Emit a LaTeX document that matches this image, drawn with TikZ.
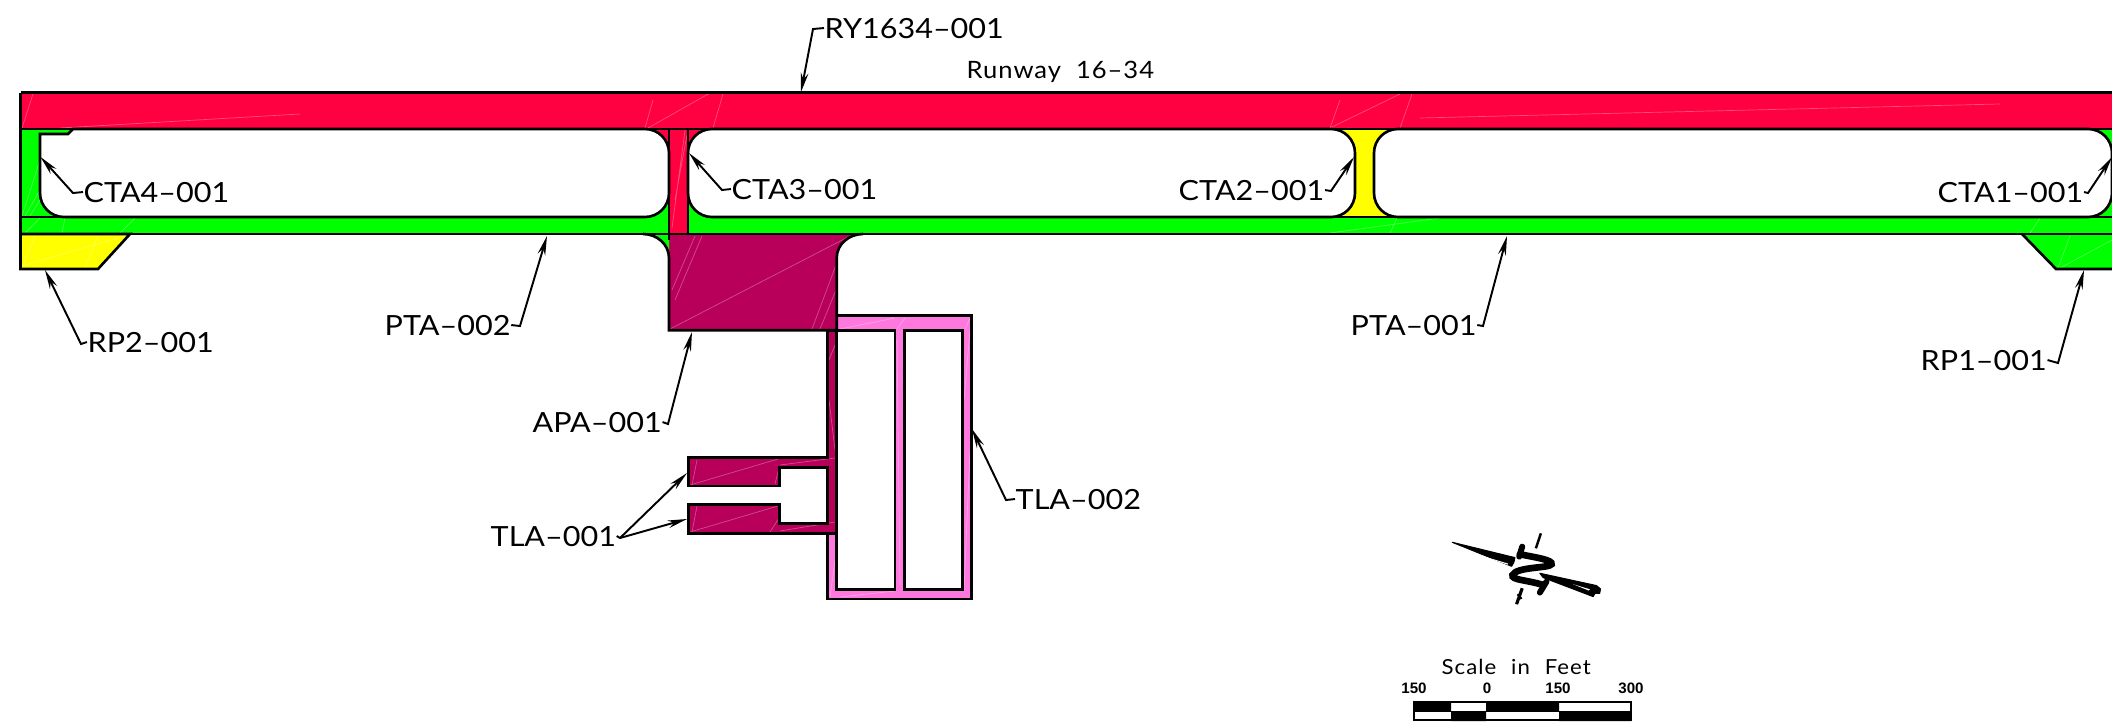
\documentclass[tikz,border=0pt]{standalone}
\usepackage{fontspec}
\setmainfont{Liberation Sans}
\newfontfamily\lblfont{Lato}[FakeStretch=1.1]
\newfontfamily\rwfont{Lato}[FakeStretch=1.07,LetterSpace=4,WordSpace=2]
\newfontfamily\scfont{Lato}[FakeStretch=1.07,LetterSpace=5,WordSpace=2.2]
\usetikzlibrary{arrows.meta}
\definecolor{rwy}{RGB}{255,0,64}
\definecolor{twy}{RGB}{0,255,0}
\definecolor{ylw}{RGB}{255,255,0}
\definecolor{apr}{RGB}{184,0,90}
\definecolor{tla}{RGB}{255,120,222}
\tikzset{
  outl/.style={draw=black,line width=0.75pt,line join=miter},
  edge/.style={draw=black,line width=0.75pt},
  hole/.style={fill=white,draw=black,line width=0.75pt},
  lab/.style={inner sep=0pt,anchor=base west,font=\fontsize{7.9}{9}\lblfont},
  lab2/.style={inner sep=0pt,anchor=base west,font=\fontsize{6.8}{8}\rwfont},
  lab3/.style={inner sep=0pt,anchor=base west,font=\fontsize{5.9}{8}\scfont},
  num/.style={inner sep=0pt,anchor=base,font=\fontsize{4.3}{5}\selectfont\bfseries},
  lead/.style={draw=black,line width=0.55pt},
  tip/.style={lead,-{Stealth[length=5.5pt,width=2.2pt]}},
  tri/.style={draw=white,line width=0.2pt,opacity=0.3},
  ink/.style={fill=black,draw=black,line width=0.3pt,line join=round},
}
\begin{document}
\begin{tikzpicture}[x=0.01cm,y=-0.01cm]
\useasboundingbox (0,0) rectangle (2112,721);
% surfaces
\fill[twy] (20.5,129) rectangle (2112,234);
\fill[rwy] (20.5,92.7) rectangle (2112,129);
\fill[ylw] (1325,129) rectangle (1405,217);
\fill[rwy] (640,129) rectangle (720,175);
\fill[rwy] (669,129) rectangle (688,234);
% triangulation seams
\draw[tri] (22,128)--(33,94) (60,128)--(300,114) (645,128)--(653,100) (648,128)--(710,93) (713,128)--(723,94)
 (1330,128)--(1340,100) (1330,128)--(1400,94) (1400,128)--(1412,94) (1420,118)--(2000,104)
 (22,216)--(40,160) (25,216)--(40,190) (30,216)--(40,200) (25,233)--(40,218) (62,233)--(65,218) (120,233)--(135,218)
 (672,228)--(685,130) (675,200)--(687,135) (2030,233)--(2040,218) (1330,233)--(1440,218) (1390,233)--(1397,218);
\fill[ylw] (20.5,234) -- (130,234) -- (98,269) -- (20.5,269) -- cycle;
\draw[tri] (22,268)--(35,236) (25,265)--(125,236) (85,268)--(98,236);
\draw[outl] (20.5,234) -- (130,234) -- (98,269) -- (20.5,269) -- cycle;
\fill[twy] (2022,234) -- (2056,269) -- (2112,269) -- (2112,234) -- cycle;
\draw[tri] (2058,268)--(2070,236) (2060,268)--(2112,240);
\draw[outl] (2112,269) -- (2056,269) -- (2022,234);
% pink area
\path[fill=tla,even odd rule] (827.3,315.7) rectangle (971.7,599) (836.7,330.7) rectangle (895,589.3) (904.3,330.7) rectangle (962.3,589.3);
\draw[tri] (840,329)--(895,318) (897,329)--(905,318) (965,329)--(970,318) (900,585)--(897,340) (830,597)--(835,560) (840,597)--(895,591) (964,400)--(970,330) (964,590)--(970,450);
\draw[outl] (827.3,315.7) rectangle (971.7,599) (836.7,330.7) rectangle (895,589.3) (904.3,330.7) rectangle (962.3,589.3);
% terminal lease strip
\path[fill=apr] (827.3,330.3) -- (836.7,330.3) -- (836.7,533.3) -- (688.3,533.3) -- (688.3,504.3) -- (779.3,504.3) -- (779.3,523.3) -- (827.3,523.3) -- (827.3,467.3) -- (779.3,467.3) -- (779.3,486) -- (688.3,486) -- (688.3,457.7) -- (827.3,457.7) -- cycle;
\draw[tri] (690,485)--(778,459) (692,485)--(697,460) (775,484)--(779,468) (690,532)--(778,506) (692,532)--(697,506) (770,532)--(779,518) (780,531)--(835,522) (780,465)--(835,458) (829,360)--(835,345) (829,400)--(835,450);
\draw[outl] (827.3,330.3) -- (836.7,330.3) -- (836.7,533.3) -- (688.3,533.3) -- (688.3,504.3) -- (779.3,504.3) -- (779.3,523.3) -- (827.3,523.3) -- (827.3,467.3) -- (779.3,467.3) -- (779.3,486) -- (688.3,486) -- (688.3,457.7) -- (827.3,457.7) -- cycle;
% apron
\path[fill=apr] (669,234) -- (863,234) to[out=180,in=90] (836.7,258) -- (836.7,330.3) -- (669,330.3) -- cycle;
\draw[tri] (670,329)--(850,236) (672,290)--(695,236) (675,300)--(702,236) (812,329)--(836,265) (820,329)--(836,290);
\fill[twy] (643,234) to[out=0,in=90] (669,258) -- (669,234) -- cycle;
\draw[edge] (643,234) to[out=0,in=90] (669,258) -- (669,330.3) -- (836.7,330.3) -- (836.7,258) to[out=90,in=180] (863,234);
% pavement edges
\draw[edge] (20.5,92.7) -- (2112,92.7);
\draw[edge] (20.5,92.7) -- (20.5,269);
\draw[edge] (20.5,129) -- (2112,129);
\draw[edge] (20.5,234) -- (2112,234);
\draw[edge] (20.5,217) -- (70,217) (1325,217) -- (1405,217) (2080,217) -- (2112,217);
\draw[edge] (669,129) -- (669,240) (688,129) -- (688,234);
% infield holes
\path[hole] (73,129) -- (68,134) -- (40,134) -- (40,193) to[out=-90,in=180] (64,217) -- (645,217) to[out=0,in=-90] (669,193) -- (669,153) to[out=90,in=0] (645,129) -- cycle;
\path[hole] (712,129) to[out=180,in=90] (688,153) -- (688,193) to[out=-90,in=180] (712,217) -- (1331,217) to[out=0,in=-90] (1355,193) -- (1355,153) to[out=90,in=0] (1331,129) -- cycle;
\path[hole] (1398,129) to[out=180,in=90] (1374,153) -- (1374,193) to[out=-90,in=180] (1398,217) -- (2088,217) to[out=0,in=-90] (2112,193) -- (2112,153) to[out=90,in=0] (2088,129) -- cycle;
% labels
\node[lab2] (rwlabel) at (966,78) {Runway 16–34};
\node[lab] (lRY) at (824,38) {RY1634–001};
\node[lab] (lCTA4) at (83,202) {CTA4–001};
\node[lab] (lCTA3) at (731,199) {CTA3–001};
\node[lab] (lCTA2) at (1178,200) {CTA2–001};
\node[lab] (lCTA1) at (1937,202) {CTA1–001};
\node[lab] (lRP2) at (87,352) {RP2–001};
\node[lab] (lPTA2) at (384,335) {PTA–002};
\node[lab] (lPTA1) at (1350,335) {PTA–001};
\node[lab] (lRP1) at (1920,370) {RP1–001};
\node[lab] (lAPA) at (532,432) {APA–001};
\node[lab] (lTLA1) at (490,546) {TLA–001};
\node[lab] (lTLA2) at (1015,509) {TLA–002};
% leader points
\coordinate (eRY) at (813,29);   \coordinate (tRY) at (801,92);
\coordinate (eCTA4) at (73,193); \coordinate (tCTA4) at (40.5,157);
\coordinate (eCTA3) at (722,190);\coordinate (tCTA3) at (689,153);
\coordinate (eCTA2) at (1331,191);\coordinate (tCTA2) at (1354,157);
\coordinate (eCTA1) at (2088,193);\coordinate (tCTA1) at (2112,157);
\coordinate (eRP2) at (81,344);  \coordinate (tRP2) at (45,270);
\coordinate (ePTA2) at (520,326);\coordinate (tPTA2) at (547,236);
\coordinate (ePTA1) at (1483,326);\coordinate (tPTA1) at (1507,236);
\coordinate (eRP1) at (2058,363);\coordinate (tRP1) at (2084,270);
\coordinate (eAPA) at (668,424); \coordinate (tAPA) at (692,332);
\coordinate (eTLA1) at (620,538);\coordinate (tTLAa) at (687,473);\coordinate (tTLAb) at (687,519);
\coordinate (eTLA2) at (1006,500);\coordinate (tTLA2) at (972,429);
% leaders
\draw[tip] (lRY.west) -- (eRY) -- (tRY);
\draw[tip] (lCTA4.west) -- (eCTA4) -- (tCTA4);
\draw[tip] (lCTA3.west) -- (eCTA3) -- (tCTA3);
\draw[tip] (lCTA2.east) -- (eCTA2) -- (tCTA2);
\draw[tip] (lCTA1.east) -- (eCTA1) -- (tCTA1);
\draw[tip] (lRP2.west) -- (eRP2) -- (tRP2);
\draw[tip] (lPTA2.east) -- (ePTA2) -- (tPTA2);
\draw[tip] (lPTA1.east) -- (ePTA1) -- (tPTA1);
\draw[tip] (lRP1.east) -- (eRP1) -- (tRP1);
\draw[tip] (lAPA.east) -- (eAPA) -- (tAPA);
\draw[tip] (lTLA1.east) -- (eTLA1) -- (tTLAa);
\draw[tip] (eTLA1) -- (tTLAb);
\draw[tip] (lTLA2.west) -- (eTLA2) -- (tTLA2);
% north arrow
\begin{scope}[shift={(1440,525)},x=0.00333cm,y=-0.00333cm]
\fill[ink] (37,52) -- (225,98) -- (222,112) -- (215,124) -- cycle;
\fill[white] (110,88) -- (205,116) -- (203,119) -- cycle;
\fill[ink] (300,145) -- (470,182) -- (482,192) -- (480,205) -- (466,205) -- (460,215) -- (310,158) -- cycle;
\fill[white] (400,178) -- (450,193) -- (447,197) -- cycle;
\draw[black,line width=1.9pt,line cap=round] (240,88) .. controls (290,98) and (340,105) .. (335,118) .. controls (330,130) and (230,125) .. (218,150) .. controls (212,165) and (260,165) .. (310,180);
\draw[black,line width=1.7pt,line cap=round] (238,95) -- (247,65);
\draw[black,line width=1.7pt,line cap=round] (300,203) -- (320,170);
\draw[black,line width=0.7pt] (303,25) -- (288,70);
\draw[black,line width=0.9pt] (247,190) -- (230,238);
\draw[black,line width=0.6pt] (233,208) -- (245,222);
\end{scope}
% scale
\node[lab3] (scaletitle) at (1441,674) {Scale in Feet};
\node[num] (n150a) at (1414,693) {150};
\node[num] (n0) at (1487,693) {0};
\node[num] (n150b) at (1558,693) {150};
\node[num] (n300) at (1631,693) {300};
\fill[black] (1414,702) rectangle (1451,711.5) (1486,702) rectangle (1559,711.5) (1451,711.5) rectangle (1486,721) (1559,711.5) rectangle (1631,721);
\draw[black,line width=0.6pt] (1414,702) rectangle (1631,720.3);
\draw[black,line width=0.4pt] (1414,711.5) -- (1631,711.5);
\end{tikzpicture}
\end{document}
